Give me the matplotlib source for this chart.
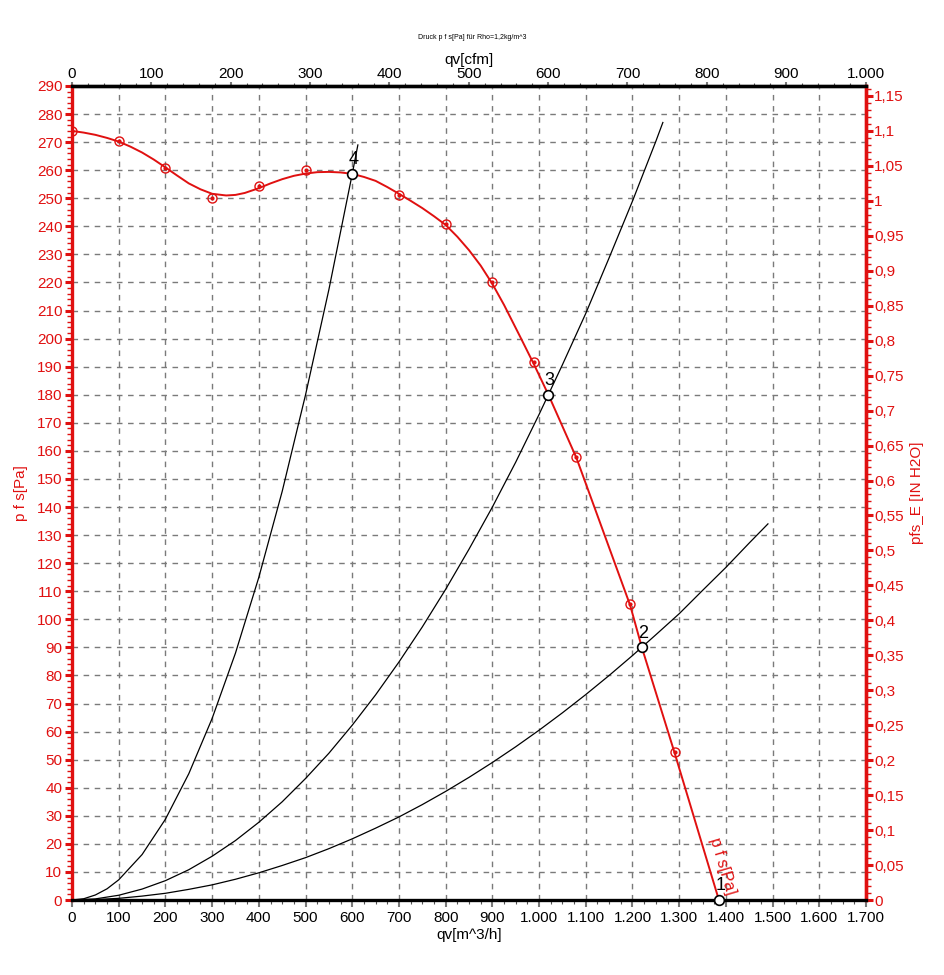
import matplotlib
matplotlib.use("Agg")
import matplotlib.pyplot as plt
from matplotlib.ticker import MultipleLocator, FixedLocator, FuncFormatter

plt.rcParams['font.family'] = ['Liberation Sans', 'DejaVu Sans']

RED = '#e01010'
GRID = '#7a7a7a'

# fan curve p f s [Pa] over qv [m^3/h]
q_curve = [0, 25, 50, 75, 100, 125, 150, 175, 200, 225, 250, 275, 300, 330, 350, 370, 400, 425,
           450, 475, 500, 525, 550, 575, 600, 625, 650, 675, 700, 725, 750, 775, 800, 825,
           850, 875, 900, 925, 960, 990, 1020, 1080, 1195, 1220, 1290, 1385]
p_curve = [274, 273.4, 272.6, 271.5, 270.2, 268.4, 266.3, 263.8, 261, 258.1, 255.3, 253.2, 251.6, 251.0, 251.2, 251.9, 253.6, 255.3,
           256.8, 258, 258.8, 259.3, 259.4, 259.2, 258.7, 257.6, 256.2, 254, 251.6, 249.1, 246.5, 243.6, 240.5, 236.3,
           231.5, 226, 219.5, 212, 200.5, 190.5, 180, 157.5, 105, 90, 52.5, 0]

# measured points on the fan curve
q_meas = [0, 100, 200, 300, 400, 500, 700, 800, 900, 990, 1080, 1195, 1290]
p_meas = [274, 270.5, 260.8, 250, 254.4, 260, 251, 241, 220, 191.7, 157.8, 105.5, 52.7]

# system curves
q_sys4 = [0, 25, 50, 75, 100, 150, 200, 250, 300, 350, 400, 450, 500, 550, 600, 612]
p_sys4 = [0, 0.45, 1.8, 4.0, 7.2, 16.2, 28.8, 45, 64.7, 88, 115, 145.6, 180, 217.5, 258.7, 269]
q_sys3 = [0, 50, 100, 150, 200, 250, 300, 350, 400, 450, 500, 550, 600, 650, 700, 750, 800,
          850, 900, 950, 1000, 1050, 1100, 1150, 1200, 1250, 1265]
p_sys3 = [0, 0.4, 1.7, 3.9, 6.9, 10.8, 15.6, 21.2, 27.7, 35, 43.3, 52.3, 62.3, 73.1, 84.8, 97.3, 110.7,
          125, 140, 156, 173, 190.7, 209, 228.8, 249, 270.3, 277]
q_sys2 = [0, 50, 100, 150, 200, 250, 300, 350, 400, 450, 500, 550, 600, 650, 700, 750, 800,
          850, 900, 950, 1000, 1050, 1100, 1150, 1200, 1250, 1300, 1350, 1400, 1450, 1490]
p_sys2 = [0, 0.15, 0.6, 1.4, 2.4, 3.8, 5.4, 7.4, 9.7, 12.3, 15.1, 18.3, 21.8, 25.6, 29.6, 34, 38.7,
          43.7, 49, 54.6, 60.5, 66.7, 73.2, 80, 87.1, 94.5, 102, 110.3, 118.5, 127.2, 134]

# operating points
op_labels = ['1', '2', '3', '4']
op_q = [1385, 1220, 1020, 600]
op_p = [0, 90, 180, 258.7]

# axis ticks
cfm_ticks = list(range(0, 1001, 100))
inh2o_ticks = [i * 0.05 for i in range(24)]

fig = plt.figure(figsize=(9.44, 9.75), dpi=100)
ax = fig.add_axes([0.0763, 0.0769, 0.9174 - 0.0763, 0.9118 - 0.0769])
ax.set_xlim(0, 1700)
ax.set_ylim(0, 290)

for qs, ps in [(q_sys4, p_sys4), (q_sys3, p_sys3), (q_sys2, p_sys2)]:
    ax.plot(qs, ps, color='black', lw=0.9, zorder=3)

ax.plot(q_curve, p_curve, color=RED, lw=1.4, zorder=4)
ax.plot(q_meas, p_meas, 'o', ms=6.5, mfc='none', mec=RED, mew=1.0, zorder=5)
ax.plot(q_meas, p_meas, 'o', ms=2, mfc=RED, mec=RED, zorder=5)

ax.plot(op_q, op_p, 'o', ms=7, mfc='white', mec='black', mew=1.2, zorder=6, clip_on=False)
for lab, q, p in zip(op_labels, op_q, op_p):
    ax.annotate(lab, (q, p), xytext=(1, 4), textcoords='offset points',
                ha='center', va='bottom', fontsize=13, color='black', zorder=7)

ax.text(1392, 12, 'p f s[Pa]', color=RED, fontsize=11.5, rotation=-73.5,
        ha='center', va='center', rotation_mode='anchor', zorder=7)

# grid and ticks
ax.xaxis.set_major_locator(MultipleLocator(100))
ax.xaxis.set_minor_locator(MultipleLocator(25))
ax.yaxis.set_major_locator(MultipleLocator(10))
ax.yaxis.set_minor_locator(MultipleLocator(2))
ax.grid(True, which='major', color=GRID, ls=(0, (4, 4)), lw=1.0)
ax.set_axisbelow(True)

ax.xaxis.set_major_formatter(FuncFormatter(lambda v, p: f"{int(round(v)):,}".replace(",", ".")))
ax.tick_params(axis='x', which='major', direction='out', length=5, color=GRID, width=1.5,
               labelsize=11, pad=3)
ax.tick_params(axis='x', which='minor', direction='out', length=3, color='#555555', width=0.8)
ax.tick_params(axis='y', which='major', direction='out', length=5, color=RED, width=2.2,
               labelsize=11, labelcolor=RED, pad=2)
ax.tick_params(axis='y', which='minor', direction='out', length=3.5, color=RED, width=1)

for s in ['top', 'bottom']:
    ax.spines[s].set_color('black')
    ax.spines[s].set_linewidth(2.4)
for s in ['left', 'right']:
    ax.spines[s].set_color(RED)
    ax.spines[s].set_linewidth(2.4)

ax.set_xlabel('qv[m^3/h]', fontsize=11, labelpad=2)
ax.set_ylabel('p f s[Pa]', fontsize=11, color=RED, labelpad=6)

# cfm top axis
top = ax.secondary_xaxis('top', functions=(lambda q: q / 1.699, lambda c: c * 1.699))
top.xaxis.set_major_locator(FixedLocator(cfm_ticks))
top.xaxis.set_minor_locator(MultipleLocator(20))
top.xaxis.set_major_formatter(FuncFormatter(lambda v, p: f"{int(round(v)):,}".replace(",", ".")))
top.tick_params(which='major', direction='out', length=3, color=GRID, width=1.5, labelsize=11, pad=0.5)
top.tick_params(which='minor', direction='out', length=2.5, color='#555555', width=0.8)
top.spines['top'].set_linewidth(2.4)
top.set_xlabel('qv[cfm]', fontsize=11, labelpad=2)


def in_fmt(v, p):
    s = f"{v:.2f}".rstrip('0').rstrip('.')
    return s.replace('.', ',')


right = ax.secondary_yaxis('right', functions=(lambda p: p / 249.089, lambda w: w * 249.089))
right.yaxis.set_major_locator(FixedLocator(inh2o_ticks))
right.yaxis.set_minor_locator(MultipleLocator(0.01))
right.yaxis.set_major_formatter(FuncFormatter(in_fmt))
right.tick_params(which='major', direction='out', length=5, color=RED, width=2.2,
                  labelsize=11, labelcolor=RED, pad=1)
right.tick_params(which='minor', direction='out', length=3.5, color=RED, width=1)
right.spines['right'].set_color(RED)
right.spines['right'].set_linewidth(2.4)
right.set_ylabel('pfs_E [IN H2O]', fontsize=11, color=RED, labelpad=4)

fig.text(0.5, 0.962, 'Druck p f s[Pa] für Rho=1,2kg/m^3', fontsize=5, ha='center', va='center')

fig.savefig('out.png', dpi=100, facecolor='white')
